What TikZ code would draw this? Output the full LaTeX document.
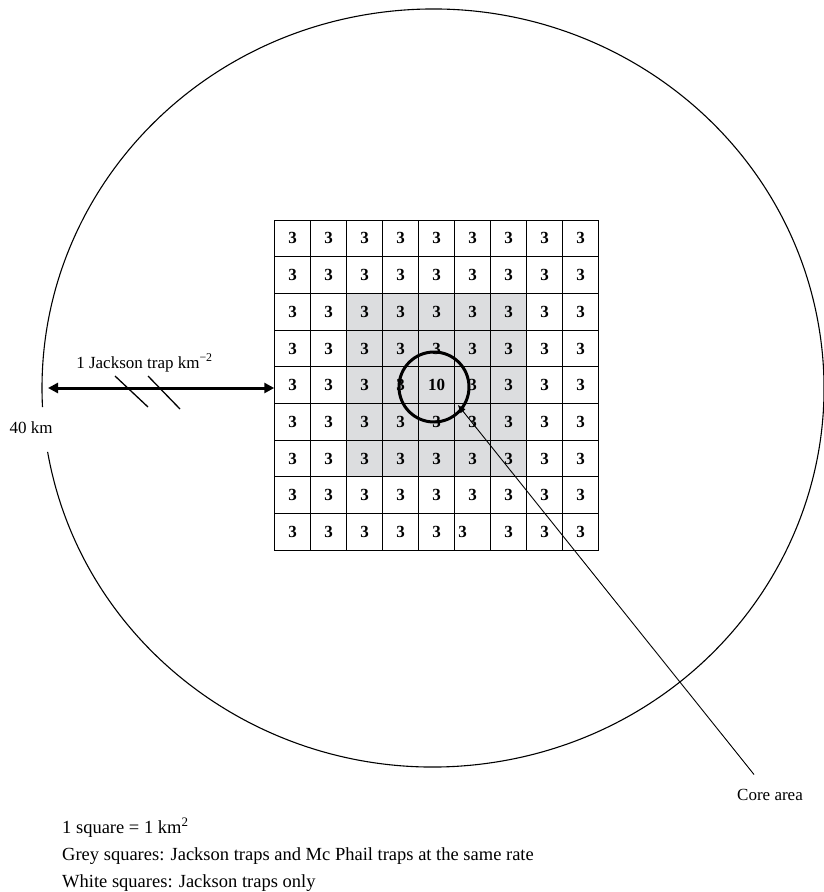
\documentclass[tikz,border=0pt]{standalone}
\usepackage{fontspec}
\setmainfont{Liberation Serif}
\usepackage{tikz}
\usetikzlibrary{arrows.meta, positioning, backgrounds}
\definecolor{coregrey}{RGB}{220, 221, 223}

\begin{document}
\begin{tikzpicture}[
    x=1pt, y=-1pt,
    cell/.style={rectangle, draw, line width=0.9pt, minimum width=36pt, minimum height=36.7pt, inner sep=0pt, font=\fontsize{17}{20}\selectfont\bfseries},
    lbl/.style={inner sep=0pt, font=\fontsize{17}{20}\selectfont},
    legend/.style={inner sep=0pt, anchor=base west, font=\fontsize{18.5}{22}\selectfont},
    span/.style={{Triangle[length=10pt,width=10pt]}-{Triangle[length=10pt,width=10pt]}, line width=3pt},
    pointer/.style={-{Triangle[length=8pt,width=6pt]}, line width=0.9pt},
    ring/.style={circle, draw, line width=3pt, minimum size=70pt, inner sep=0pt}
  ]
  \useasboundingbox (0,0) rectangle (824,892);

  % outer 40 km circle, open where the label sits
  \draw[line width=1.1pt] (433,388) ++(189.7:391pt and 379pt)
    arc[start angle=189.7, end angle=542.9, x radius=391pt, y radius=379pt];

  % 9 x 9 grid of 1 km squares
  \foreach \r in {1,...,9}
    \foreach \c in {1,...,9} {
      \def\val{3}
      \ifnum\r\c=55 \def\val{10}\fi
      \ifnum\r\c=96 \def\val{3\hspace*{20pt}}\fi
      \node[cell] (c-\r-\c) at ({274.7+36*(\c-0.5)}, {220+36.7*(\r-0.5)}) {\val};
    }
  \begin{scope}[on background layer]
    \fill[coregrey] (c-3-3.north west) rectangle (c-7-7.south east);
  \end{scope}

  % core area
  \node[ring] (core) at (434,387) {};
  \coordinate (tip) at (458,405);
  \node[lbl, anchor=base] (corelbl) at (770,800) {Core area};
  \draw[pointer, shorten <=18pt] (corelbl) -- (tip);

  % distance to the rim
  \coordinate (rim) at (48,388);
  \draw[span] (rim) -- (rim -| c-5-1.west);
  \draw[line width=1.3pt] (115,376) -- (148,407);
  \draw[line width=1.3pt] (148,376) -- (180,409);
  \node[lbl, anchor=base] (jack) at (144.5,368) {1 Jackson trap km\textsuperscript{−2}};
  \node[lbl, anchor=base] (dist) at (31,433) {40 km};

  % key
  \node[legend] (key1) at (62,833) {1 square = 1 km\textsuperscript{2}};
  \node[legend] (key2) at (62,860) {Grey squares: Jackson traps and Mc Phail traps at the same rate};
  \node[legend] (key3) at (62,887) {White squares: Jackson traps only};
\end{tikzpicture}
\end{document}
